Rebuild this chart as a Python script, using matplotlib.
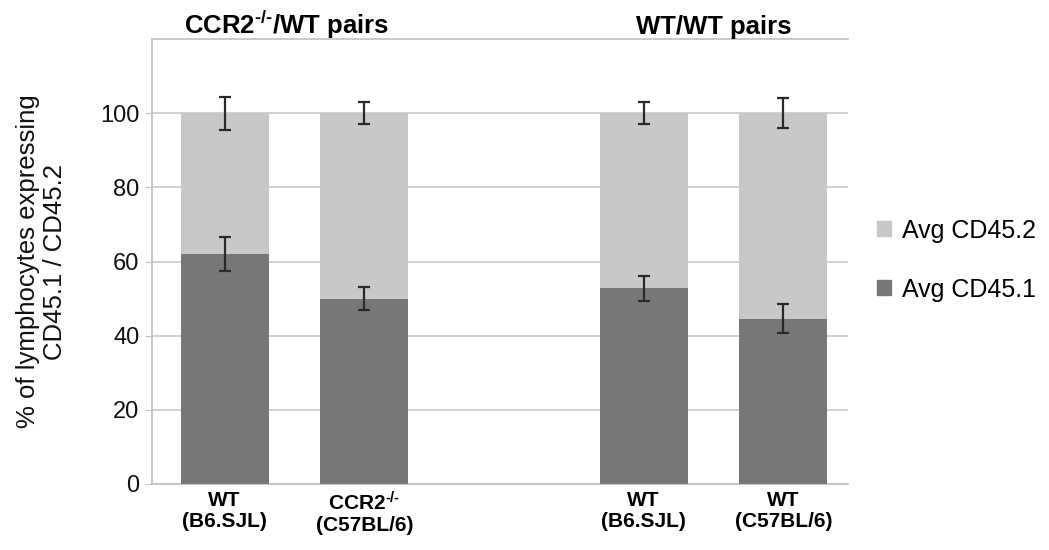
import matplotlib
matplotlib.use("Agg")
import matplotlib.pyplot as plt
import numpy as np
from matplotlib.patches import Patch

categories = ["WT\n(B6.SJL)", r"CCR2$^{\text{-/-}}$" + "\n(C57BL/6)", "WT\n(B6.SJL)", "WT\n(C57BL/6)"]
positions = [0, 1, 3, 4]
cd451 = [62, 50, 52.8, 44.6]
cd451_err = [4.5, 3.2, 3.4, 3.9]
cd452 = [38, 50, 47.2, 55.4]
cd452_err = [4.5, 2.9, 3.0, 4.0]
group_titles = [r"CCR2$^{\text{-/-}}$/WT pairs", "WT/WT pairs"]
group_centers = [0.44, 3.5]

plt.rcParams['font.family'] = ["Liberation Sans", "DejaVu Sans"]
plt.rcParams['mathtext.fontset'] = 'custom'
plt.rcParams['mathtext.rm'] = 'Liberation Sans:bold'
plt.rcParams['mathtext.it'] = 'Liberation Sans:bold'
plt.rcParams['mathtext.bf'] = 'Liberation Sans:bold'
plt.rcParams['mathtext.default'] = 'rm'

light = "#c8c8c8"
dark = "#777777"

fig = plt.figure(figsize=(10.49, 5.5), dpi=100)
ax = fig.add_axes([0.145, 0.12, 0.663, 0.809])

w = 0.63
ax.bar(positions, cd451, width=w, color=dark, zorder=3)
ax.bar(positions, cd452, width=w, bottom=cd451, color=light, zorder=3)
tops = [a + b for a, b in zip(cd451, cd452)]
ax.errorbar(positions, cd451, yerr=cd451_err, fmt='none', ecolor='#2a2a2a',
            elinewidth=1.6, capsize=4, capthick=1.6, zorder=4)
ax.errorbar(positions, tops, yerr=cd452_err, fmt='none', ecolor='#2a2a2a',
            elinewidth=1.6, capsize=4, capthick=1.6, zorder=4)

ax.set_xlim(-0.52, 4.46)
ax.set_ylim(0, 120)
ax.set_yticks([0, 20, 40, 60, 80, 100])
ax.yaxis.grid(True, color="#c8c8c8", linewidth=1.2, zorder=0)
ax.set_axisbelow(True)
for s in ["top", "left", "bottom"]:
    ax.spines[s].set_color("#c0c0c0")
    ax.spines[s].set_linewidth(1.2)
ax.spines["right"].set_visible(False)
ax.tick_params(axis='y', length=5, color="#c0c0c0", labelsize=17, pad=4, labelcolor="#111111")
ax.tick_params(axis='x', length=0, pad=5)
ax.set_xticks(positions)
ax.set_xticklabels(categories, fontsize=15, fontweight='bold', linespacing=1.15)

ax.set_ylabel("% of lymphocytes expressing\nCD45.1 / CD45.2", fontsize=18.5, labelpad=24,
              color="#111111", linespacing=1.15)

for t, c in zip(group_titles, group_centers):
    ax.text(c, 1.012, t, transform=ax.get_xaxis_transform(), ha='center', va='baseline',
            fontsize=18.5, fontweight='bold')

handles = [Patch(color=light, label="Avg CD45.2"), Patch(color=dark, label="Avg CD45.1")]
fig.legend(handles=handles, loc='center left', bbox_to_anchor=(0.815, 0.527), frameon=False,
           fontsize=18, handlelength=0.55, handleheight=0.55, handletextpad=0.45, labelspacing=1.4)

fig.savefig("out.png", dpi=100)
